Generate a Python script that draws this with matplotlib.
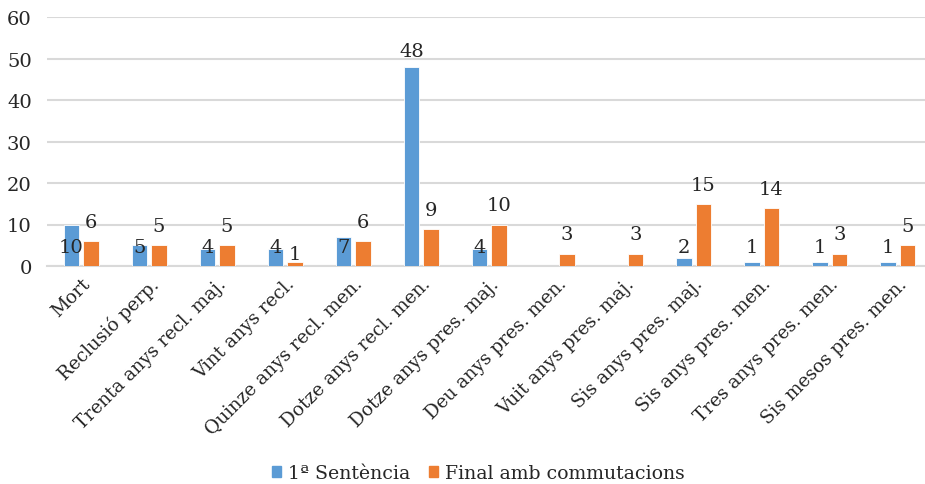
import matplotlib
matplotlib.use("Agg")
import matplotlib.pyplot as plt
import numpy as np
from matplotlib.patches import Patch

categories = ["Mort", "Reclusió perp.", "Trenta anys recl. maj.", "Vint anys recl.",
              "Quinze anys recl. men.", "Dotze anys recl. men.", "Dotze anys pres. maj.",
              "Deu anys pres. men.", "Vuit anys pres. maj.", "Sis anys pres. maj.",
              "Sis anys pres. men.", "Tres anys pres. men.", "Sis mesos pres. men."]
primera = [10, 5, 4, 4, 7, 48, 4, None, None, 2, 1, 1, 1]
final = [6, 5, 5, 1, 6, 9, 10, 3, 3, 15, 14, 3, 5]
series_names = ["1ª Sentència", "Final amb commutacions"]
yticks = [0, 10, 20, 30, 40, 50, 60]

BLUE = "#5B9BD5"
ORANGE = "#ED7D31"
FONT = "DejaVu Serif"
TXT = "#262626"
plt.rcParams['font.family'] = [FONT]

fig = plt.figure(figsize=(9.25, 4.85), dpi=100)
ax = fig.add_axes([47/925, 1-267/485, 878/925, 249/485])

x = np.arange(len(categories))
w = 0.228
off = 0.143
pv = np.array([np.nan if v is None else v for v in primera], dtype=float)
fv = np.array(final, dtype=float)
ax.bar(x - off, np.nan_to_num(pv), w, color=BLUE, edgecolor="white", linewidth=0.6, zorder=3)
ax.bar(x + off, fv, w, color=ORANGE, edgecolor="white", linewidth=0.6, zorder=3)

for xi, v in zip(x, primera):
    if v is None:
        continue
    y = v + 2.6 if v > 20 else 3.4
    ax.text(xi - off, y, str(v), ha="center", va="baseline", fontsize=14, color=TXT, zorder=4)
for xi, v in zip(x, final):
    y = v + 3.4 if v > 1 else v + 0.7
    ax.text(xi + off, y, str(v), ha="center", va="baseline", fontsize=14, color=TXT, zorder=4)

ax.set_ylim(0, 60)
ax.set_xlim(-0.5, 12.4)
ax.set_yticks(yticks)
ax.set_yticklabels([str(t) for t in yticks], fontsize=14, color=TXT)
ax.set_xticks(x)
ax.set_xticklabels(categories, rotation=45, ha="right", rotation_mode="anchor", fontsize=13.3, color=TXT)
ax.tick_params(axis="both", length=0)
ax.tick_params(axis="y", pad=11)
ax.tick_params(axis="x", pad=6)
ax.grid(axis="y", color="#D9D9D9", linewidth=1.5, zorder=0)
for s in ["top", "right", "left"]:
    ax.spines[s].set_visible(False)
ax.spines["bottom"].set_color("#D9D9D9")
ax.spines["bottom"].set_linewidth(1.5)

handles = [Patch(color=BLUE), Patch(color=ORANGE)]
fig.legend(handles, series_names, loc="center", bbox_to_anchor=(0.517, 1-474/485), ncol=2,
           frameon=False, fontsize=13.6, handlelength=0.5, handleheight=0.5, handletextpad=0.35,
           columnspacing=1.0, labelcolor=TXT)

fig.savefig("out.png", dpi=100)
